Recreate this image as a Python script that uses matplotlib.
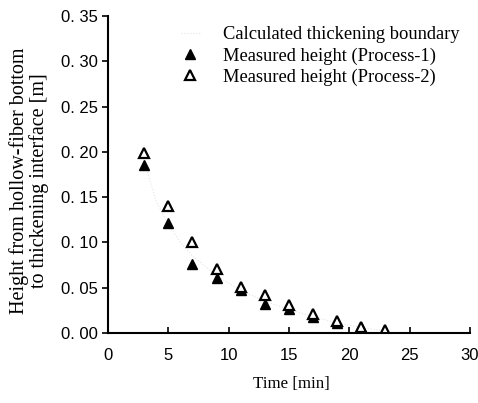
import matplotlib
matplotlib.use("Agg")
import matplotlib.pyplot as plt
import numpy as np

# calculated curve (very faint in the original)
t_calc = [3, 4, 5, 6, 7, 9, 11, 13, 15, 17, 19, 21, 23]
h_calc = [0.19, 0.145, 0.12, 0.10, 0.085, 0.063, 0.047, 0.035, 0.026, 0.018, 0.011, 0.006, 0.002]

t_meas = [3, 5, 7, 9, 11, 13, 15, 17, 19, 21, 23]
h_proc1 = [0.185, 0.121, 0.076, 0.061, 0.047, 0.032, 0.026, 0.017, 0.011, 0.006, 0.001]
h_proc2 = [0.199, 0.140, 0.100, 0.071, 0.051, 0.042, 0.031, 0.021, 0.013, 0.006, 0.003]

xticks = [0, 5, 10, 15, 20, 25, 30]
yticks = [0.0, 0.05, 0.10, 0.15, 0.20, 0.25, 0.30, 0.35]

serif = ['Liberation Serif', 'DejaVu Serif']
sans = ['Liberation Sans', 'DejaVu Sans']

fig = plt.figure(figsize=(4.78, 4.03), dpi=100)
ax = fig.add_axes([0.226, 0.174, 0.757, 0.786])

ax.plot(t_calc, h_calc, linestyle=':', color='#e4e4e4', linewidth=0.8,
        label='Calculated thickening boundary')
ax.plot(t_meas, h_proc1, linestyle='none', marker='^', color='black',
        markersize=7.5, label='Measured height (Process-1)')
ax.plot(t_meas, h_proc2, linestyle='none', marker='^', markerfacecolor='white',
        markeredgecolor='black', markeredgewidth=1.6, markersize=6.5,
        label='Measured height (Process-2)')

ax.set_xlim(0, 30)
ax.set_ylim(0, 0.35)
ax.set_xticks(xticks)
ax.set_yticks(yticks)
ax.set_xticklabels([str(v) for v in xticks], fontfamily=sans, fontsize=12)
ax.set_yticklabels([('%.2f' % v).replace('.', '. ') for v in yticks], fontfamily=sans, fontsize=12)

ax.tick_params(axis='x', direction='in', length=4, width=1.2, pad=11)
ax.tick_params(axis='y', direction='out', length=4, width=1.2, pad=3)
for s in ['top', 'right']:
    ax.spines[s].set_visible(False)
for s in ['left', 'bottom']:
    ax.spines[s].set_linewidth(1.5)

ax.set_xlabel('Time [min]', fontfamily=serif, fontsize=12.2)
ax.xaxis.set_label_coords(0.506, -0.136)
ax.set_ylabel('Height from hollow-fiber bottom\nto thickening interface [m]',
              fontfamily=serif, fontsize=14.5, linespacing=1.0)
ax.yaxis.set_label_coords(-0.163, 0.48)

leg = ax.legend(loc='upper left', frameon=False, prop={'family': serif, 'size': 13.3},
                handlelength=1.0, handletextpad=1.25, labelspacing=0.22,
                borderpad=0, borderaxespad=0, bbox_to_anchor=(0.202, 0.968))

fig.savefig('out.png', dpi=100)
